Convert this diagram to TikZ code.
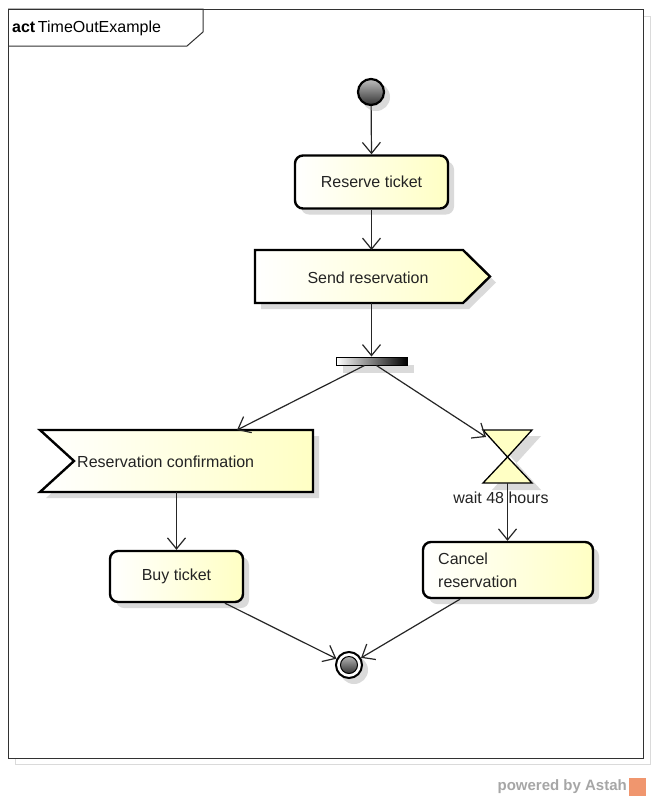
\documentclass[tikz,border=0pt]{standalone}
\usepackage{fontspec}
\setmainfont{Liberation Sans}
\usetikzlibrary{arrows.meta,shadows,calc}
\definecolor{paleyellow}{RGB}{255,255,196}
\definecolor{inkgray}{RGB}{35,35,35}
\definecolor{shadowgray}{RGB}{218,218,218}
\definecolor{framegray}{RGB}{50,50,50}
\definecolor{logoorange}{RGB}{240,150,110}
\begin{document}
\begin{tikzpicture}[x=1pt,y=-1pt,
  font=\fontsize{16}{19}\selectfont,
  boxshadow/.style={drop shadow={shadow xshift=6pt,shadow yshift=-6pt,fill=shadowgray,opacity=1}},
  yellowfill/.style={left color=white,right color=paleyellow},
  actionbox/.style={draw=black,line width=2.4pt,rounded corners=8pt,yellowfill,boxshadow,inner sep=0pt,text=inkgray},
  signalbox/.style={draw=black,line width=2.4pt,line join=miter,yellowfill,boxshadow},
  caption/.style={text=inkgray,inner sep=0pt},
  flow/.style={draw=black!85,line width=1.2pt,-{Straight Barb[length=11pt,width=18pt,line width=1.2pt]}},
]
\useasboundingbox (0,0) rectangle (653,796);

% frame with its faint shadow outline
\draw[shadowgray,line width=1pt] (15,16) rectangle (650,764);
\draw[framegray,line width=1pt,fill=white] (8,9) rectangle (643,758);
\draw[framegray,line width=1pt] (8,9) -- (203,9) -- (203,32) -- (187,46) -- (8,46);
\node[anchor=west,inner sep=0pt,text=black] (frametitle) at (12,28) {\textbf{act}\,TimeOutExample};

% initial node
\fill[shadowgray] (376,97) circle (14);
\node[circle,draw=black,line width=2.2pt,minimum size=26pt,inner sep=0pt,
      top color=black!25,bottom color=black!80] (init) at (371,92) {};

% actions
\node[actionbox,minimum width=153pt,minimum height=53pt] (reserve) at (371.5,182) {Reserve ticket};

% send signal
\path[signalbox] (255,250) -- (463,250) -- (490,276.5) -- (463,303) -- (255,303) -- cycle;
\node[caption] (send) at (368,278) {Send reservation};
\coordinate (sendtop) at (371.5,250);
\coordinate (sendbot) at (371.5,303);

% fork bar
\node[draw=black,line width=1pt,minimum width=71pt,minimum height=8pt,inner sep=0pt,
      left color=white,right color=black,
      drop shadow={shadow xshift=7pt,shadow yshift=-8pt,fill=shadowgray,opacity=1}] (fork) at (371.5,361) {};

% accept signal
\path[signalbox] (40,430) -- (313,430) -- (313,492) -- (40,492) -- (74,461) -- cycle;
\node[caption,anchor=west] (recv) at (77,462) {Reservation confirmation};
\coordinate (recvtop) at (237,430);
\coordinate (recvbot) at (176.5,492);

% time event (hourglass)
\fill[shadowgray] (492,436) -- (541,436) -- (516.5,463) -- (541,490) -- (492,490) -- (516.5,463) -- cycle;
\filldraw[draw=black,line width=1.3pt,fill=paleyellow,line join=miter]
  (483,430) -- (532,430) -- (507.5,457) -- (532,483) -- (483,483) -- (507.5,457) -- cycle;
\node[caption] (waitlabel) at (501,498) {wait 48 hours};
\coordinate (hgtop) at (507.5,430);
\coordinate (hgin) at (486,437);
\coordinate (hgbot) at (507.5,483);

\node[actionbox,minimum width=133pt,minimum height=51pt] (buy) at (176.5,576.5) {Buy ticket};
\node[actionbox,minimum width=170pt,minimum height=56pt] (cancel) at (508,570) {};
\node[caption,anchor=west,align=left,font=\fontsize{16}{23}\selectfont] (canceltext) at (438,570) {Cancel\\reservation};

% final node
\fill[shadowgray] (354,670) circle (14);
\node[circle,draw=black,line width=2pt,fill=white,minimum size=26pt,inner sep=0pt] (final) at (349,665) {};
\node[circle,draw=black,line width=1pt,minimum size=17pt,inner sep=0pt,
      top color=black!30,bottom color=black!80] (finalcore) at (349,665) {};

% control flows
\draw[flow] (init) -- (reserve.north);
\draw[flow] (reserve.south) -- (sendtop);
\draw[flow] (sendbot) -- (fork.north);
\draw[flow] ([xshift=-7pt]fork.south) -- (recvtop);
\draw[flow] ([xshift=5pt]fork.south) -- (hgin);
\draw[flow] (recvbot) -- (buy.north);
\draw[flow] (hgbot) -- (hgbot |- cancel.north);
\draw[flow] ([xshift=48.5pt]buy.south) -- (final);
\draw[flow] ([xshift=-48pt]cancel.south) -- (final);

% footer
\node[anchor=east,inner sep=0pt,text=black!35,font=\fontsize{15}{18}\selectfont\bfseries] (powered) at (627,787) {powered by Astah};
\fill[logoorange] (629,778) rectangle (646,796);
\end{tikzpicture}
\end{document}
